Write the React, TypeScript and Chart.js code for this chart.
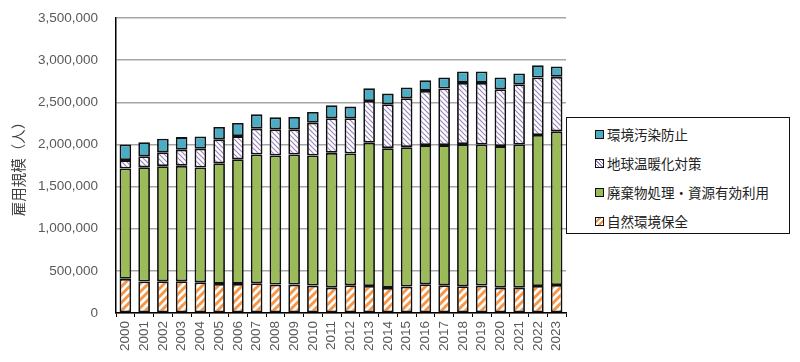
import React, { useEffect, useRef } from "react";
import { Chart, registerables } from "chart.js";

Chart.register(...registerables);

const years = ["2000","2001","2002","2003","2004","2005","2006","2007","2008","2009","2010","2011","2012","2013","2014","2015","2016","2017","2018","2019","2020","2021","2022","2023"];
// 自然環境保全
const nature = [405000,373000,377000,377000,365000,345000,345000,353000,337000,337000,325000,301000,330000,321000,298000,313000,341000,330000,317000,325000,301000,301000,321000,333000];
// 廃棄物処理・資源有効利用
const waste = [1309000,1357000,1365000,1369000,1361000,1432000,1480000,1528000,1532000,1544000,1544000,1599000,1563000,1699000,1658000,1655000,1651000,1662000,1687000,1675000,1679000,1699000,1790000,1822000];
// 地球温暖化対策
const climate = [100000,129000,164000,191000,223000,283000,274000,306000,310000,298000,389000,410000,417000,495000,520000,580000,643000,671000,726000,730000,675000,714000,683000,647000];
// 環境汚染防止
const pollution = [186000,168000,162000,150000,146000,146000,155000,170000,142000,146000,127000,154000,139000,152000,127000,127000,127000,131000,135000,135000,139000,128000,146000,123000];

const seriesNames = ["自然環境保全", "廃棄物処理・資源有効利用", "地球温暖化対策", "環境汚染防止"];
const yTicks = [0, 500000, 1000000, 1500000, 2000000, 2500000, 3000000, 3500000];

const BLUE = "#4BACC6";
const GREEN = "#9BBB59";
const ORANGE = "#F79646";
const PURPLE = "#9A86BE";

function makeHatch(color: string, dir: "/" | "\\", lw: number, size: number) {
  const c = document.createElement("canvas");
  c.width = size;
  c.height = size;
  const ctx = c.getContext("2d")!;
  ctx.fillStyle = "#ffffff";
  ctx.fillRect(0, 0, size, size);
  ctx.strokeStyle = color;
  ctx.lineWidth = lw;
  ctx.lineCap = "square";
  ctx.beginPath();
  for (const o of [-size, 0, size]) {
    if (dir === "/") {
      ctx.moveTo(o, size);
      ctx.lineTo(o + size, 0);
    } else {
      ctx.moveTo(o, 0);
      ctx.lineTo(o + size, size);
    }
  }
  ctx.stroke();
  return ctx.createPattern(c, "repeat")!;
}

export default function App() {
  const ref = useRef<HTMLCanvasElement | null>(null);

  useEffect(() => {
    if (!ref.current) return;
    const orangeHatch = makeHatch(ORANGE, "/", 3, 8);
    const purpleHatch = makeHatch(PURPLE, "\\", 1.2, 5);
    const chart = new Chart(ref.current, {
      type: "bar",
      data: {
        labels: years,
        datasets: [
          { label: seriesNames[0], data: nature, backgroundColor: orangeHatch },
          { label: seriesNames[1], data: waste, backgroundColor: GREEN },
          { label: seriesNames[2], data: climate, backgroundColor: purpleHatch },
          { label: seriesNames[3], data: pollution, backgroundColor: BLUE },
        ].map((d) => ({
          ...d,
          borderColor: "#111",
          borderWidth: 1.8,
          borderSkipped: false as any,
          barPercentage: 0.62,
          categoryPercentage: 1,
        })),
      },
      options: {
        animation: false,
        responsive: false,
        layout: { padding: { top: 18, right: 234, bottom: 0, left: 0 } },
        plugins: { legend: { display: false }, tooltip: { enabled: false } },
        scales: {
          x: {
            stacked: true,
            afterFit: (s: any) => { s.height = 49; s.paddingLeft = 0; s.paddingRight = 0; },
            grid: { drawOnChartArea: false, drawTicks: true, tickLength: 4, color: "#000", lineWidth: 1 },
            border: { color: "#000", width: 1.5 },
            ticks: {
              minRotation: 90,
              maxRotation: 90,
              autoSkip: false,
              padding: 4,
              color: "#595959",
              font: { family: "'Liberation Sans', Arial, sans-serif", size: 13.5 },
            },
          },
          y: {
            stacked: true,
            min: 0,
            max: 3500000,
            afterFit: (s: any) => { s.width = 116; s.paddingTop = 0; s.paddingBottom = 0; },
            afterBuildTicks: (s: any) => { s.ticks = yTicks.map((v) => ({ value: v })); },
            grid: { color: "#A6A6A6", lineWidth: 1.5, drawTicks: false },
            border: { color: "#000", width: 1.5 },
            ticks: {
              padding: 18,
              color: "#595959",
              font: { family: "'Liberation Sans', Arial, sans-serif", size: 13.5 },
              callback: (v: any) => Number(v).toLocaleString("en-US"),
            },
            title: {
              display: true,
              text: "雇用規模（人）",
              color: "#404040",
              padding: { top: 10, bottom: 0 },
              font: { family: "'Noto Sans CJK JP', sans-serif", size: 14.5 },
            },
          },
        },
      },
    });
    return () => chart.destroy();
  }, []);

  const legendItems = [
    { name: seriesNames[3], bg: BLUE },
    { name: seriesNames[2], bg: `repeating-linear-gradient(45deg, #fff 0 1.5px, ${PURPLE} 1.5px 2.5px)` },
    { name: seriesNames[1], bg: GREEN },
    { name: seriesNames[0], bg: `repeating-linear-gradient(-45deg, #fff 0 2px, ${ORANGE} 2px 4px)` },
  ];

  return (
    <div style={{ position: "fixed", left: 0, top: 0, width: 800, height: 362, background: "#fff" }}>
      <canvas ref={ref} width={800} height={362} style={{ position: "absolute", left: 0, top: 0 }} />
      <div
        style={{
          position: "absolute",
          left: 566,
          top: 117,
          width: 224,
          height: 117,
          border: "1.5px solid #111",
          background: "#fff",
          boxSizing: "border-box",
          fontFamily: "'Noto Sans CJK JP', sans-serif",
          fontSize: 13.5,
          color: "#222",
        }}
      >
        {legendItems.map((it, i) => (
          <div
            key={it.name}
            style={{ position: "absolute", left: 28, top: 6 + i * 29, height: 20, display: "flex", alignItems: "center", whiteSpace: "nowrap" }}
          >
            <span style={{ display: "inline-block", width: 7, height: 7, border: "1.5px solid #111", background: it.bg, marginRight: 3 }} />
            <span>{it.name}</span>
          </div>
        ))}
      </div>
    </div>
  );
}
